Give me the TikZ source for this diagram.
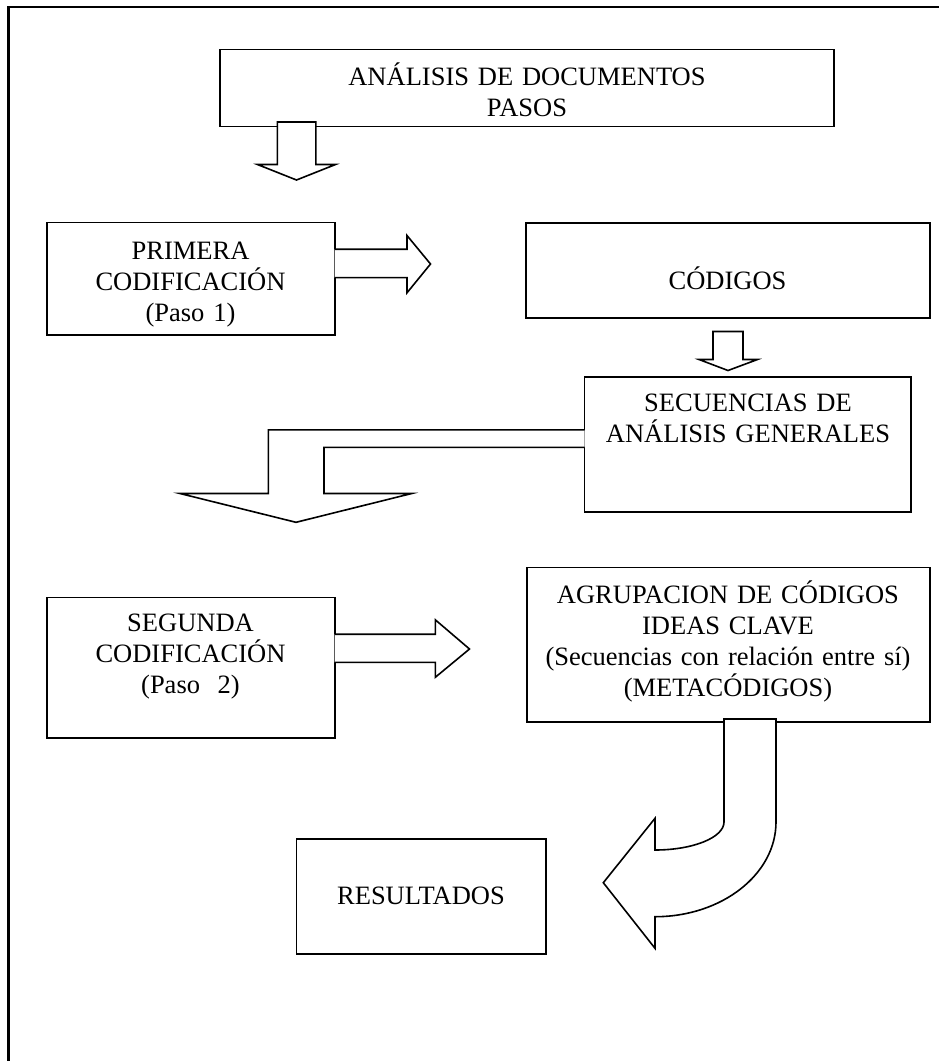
\documentclass[tikz,border=0pt]{standalone}
\usepackage{fontspec}
\setmainfont{Liberation Serif}
\begin{document}
\begin{tikzpicture}[x=1pt,y=-1pt,
  box/.style={draw, line width=1.6pt, inner sep=0pt, fill=white},
  lbl/.style={text width=430pt, align=center, anchor=base, inner sep=0pt,
              font=\fontsize{26.5}{31}\selectfont},
  blockarrow/.style={draw, fill=white, line width=1.6pt, line join=miter}]
\useasboundingbox (0,0) rectangle (939,1061);

% page frame (top and left rules)
\draw[line width=2.4pt] (8.5,1061) -- (8.5,6.8) -- (939,6.8);

% boxes
\node[box, minimum width=614.2pt, minimum height=77.1pt]  (top) at (527,88) {};
\node[box, minimum width=288pt,   minimum height=112.4pt] (prim) at (190.7,278.8) {};
\node[box, minimum width=404pt,   minimum height=95pt]    (cod) at (728,270.5) {};
\node[box, minimum width=326.5pt, minimum height=135pt]   (sec) at (747.75,444.2) {};
\node[box, minimum width=288pt,   minimum height=140.6pt] (seg) at (190.7,667.7) {};
\node[box, minimum width=403pt,   minimum height=154.2pt] (agr) at (728.5,644.6) {};
\node[box, minimum width=249.6pt, minimum height=115pt]   (res) at (421.2,896.5) {};

% texts
\node[lbl] (topT) at (527,85) {ANÁLISIS DE DOCUMENTOS\\PASOS};
\node[lbl] (primT) at (190.5,259) {PRIMERA\\CODIFICACIÓN\\(Paso 1)};
\node[lbl] (codT) at (727.5,289) {CÓDIGOS};
\node[lbl] (secT) at (748,411.5) {SECUENCIAS DE\\ANÁLISIS GENERALES};
\node[lbl] (segT) at (190.5,631.5) {SEGUNDA\\CODIFICACIÓN\\(Paso\ \ 2)};
\node[lbl] (agrT) at (728,603.5) {AGRUPACION DE CÓDIGOS\\IDEAS CLAVE\\(Secuencias con relación entre sí)\\(METACÓDIGOS)};
\node[lbl] (resT) at (421,904) {RESULTADOS};

% block arrow: top -> primera
\path[blockarrow] (277.3,122) -- (315.8,122) -- (315.8,164.5) -- (335.5,164.5)
  -- (296.5,180) -- (257.5,164.5) -- (277.3,164.5) -- cycle;

% block arrow: primera -> codigos
\path[blockarrow] (334.7,249.2) -- (407,249.2) -- (407,235.5) -- (430.5,264)
  -- (407,292.8) -- (407,277.6) -- (334.7,277.6);

% block arrow: codigos -> secuencias
\path[blockarrow] (713,331.5) -- (743,331.5) -- (743,359.5) -- (757.5,359.5)
  -- (728,370.5) -- (699,359.5) -- (713,359.5) -- cycle;

% bent block arrow: secuencias -> segunda
\path[blockarrow] (584.5,429.8) -- (268.3,429.8) -- (268.3,493.5) -- (180,493.5)
  -- (296,522.3) -- (411.7,493.5) -- (324,493.5) -- (324,447.4) -- (584.5,447.4);

% block arrow: segunda -> agrupacion
\path[blockarrow] (334.7,634.2) -- (435.3,634.2) -- (435.3,619.8) -- (469.5,649)
  -- (435.3,677.3) -- (435.3,662.4) -- (334.7,662.4);

% curved block arrow: agrupacion -> resultados
\path[blockarrow] (724,719) -- (776,719) -- (776,822)
  .. controls (776,874.3) and (721.8,916.7) .. (655,916.7)
  -- (655,948.3) -- (603.3,882.7) -- (655,818.3) -- (655,850)
  .. controls (693,850) and (724,837.5) .. (724,822) -- cycle;
\end{tikzpicture}
\end{document}
